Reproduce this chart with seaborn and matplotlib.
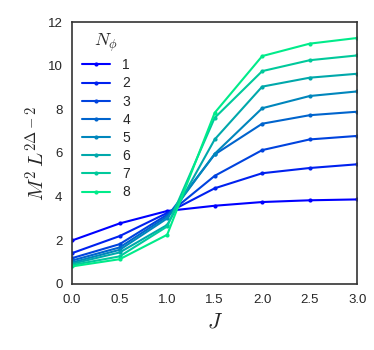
import numpy as np
import pandas as pd
import matplotlib
matplotlib.use('Agg')
import matplotlib.pyplot as plt
import seaborn as sns

# Data
J = [0.0, 0.5, 1.0, 1.5, 2.0, 2.5, 3.0]
n_phi = [1, 2, 3, 4, 5, 6, 7, 8]
m1 = [1.99, 2.77, 3.34, 3.58, 3.75, 3.83, 3.87]
m2 = [1.41, 2.19, 3.25, 4.38, 5.07, 5.31, 5.48]
m3 = [1.18, 1.82, 3.17, 4.95, 6.13, 6.62, 6.78]
m4 = [1.07, 1.67, 3.09, 5.93, 7.34, 7.73, 7.89]
m5 = [0.98, 1.56, 3.00, 5.96, 8.05, 8.61, 8.82]
m6 = [0.92, 1.44, 2.70, 6.62, 9.04, 9.45, 9.63]
m7 = [0.86, 1.26, 2.63, 7.61, 9.75, 10.25, 10.47]
m8 = [0.80, 1.13, 2.25, 7.84, 10.44, 11.01, 11.27]
series = [m1, m2, m3, m4, m5, m6, m7, m8]

rows = []
for n, vals in zip(n_phi, series):
    for j, v in zip(J, vals):
        rows.append({'J': j, 'M': v, 'N': str(n)})
df = pd.DataFrame(rows)

sns.set_style('white')
plt.rcParams['font.family'] = ['Liberation Sans', 'DejaVu Sans']
plt.rcParams['mathtext.fontset'] = 'cm'

palette = [plt.cm.winter(x) for x in np.linspace(0, 0.92, 8)]

fig = plt.figure(figsize=(3.74, 3.5), dpi=100)
ax = fig.add_axes([0.193, 0.189, 0.762, 0.748])
sns.lineplot(data=df, x='J', y='M', hue='N', palette=palette, marker='o',
             markersize=3, markeredgewidth=0, linewidth=1.5, ax=ax)

ax.set_xlim(0, 3.0)
ax.set_ylim(0, 12)
ax.set_xticks([0, 0.5, 1.0, 1.5, 2.0, 2.5, 3.0])
ax.set_xticklabels(['0.0', '0.5', '1.0', '1.5', '2.0', '2.5', '3.0'])
ax.set_yticks([0, 2, 4, 6, 8, 10, 12])
ax.tick_params(labelsize=9.5, length=0, pad=7)
for s in ax.spines.values():
    s.set_color('#333333')
    s.set_linewidth(1.2)
ax.set_xlabel('$J$', fontsize=16, labelpad=4)
ax.set_ylabel(r'$M^2\,L^{2\Delta-2}$', fontsize=15, labelpad=-1)

leg = ax.legend(title=r'$N_\phi$', loc='upper left', frameon=False,
                fontsize=10, handlelength=2.0, handletextpad=0.9,
                labelspacing=0.3, borderaxespad=0.3)
leg.get_title().set_fontsize(13)

fig.savefig('out.png', dpi=100)
